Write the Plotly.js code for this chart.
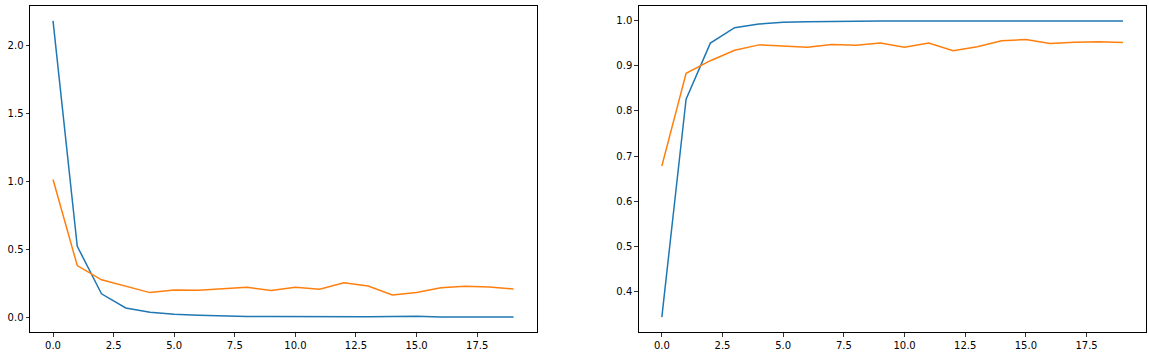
<!DOCTYPE html>
<html>
<head>
<meta charset="utf-8">
<script src="https://cdn.plot.ly/plotly-3.0.1.min.js"></script>
<style>html,body{margin:0;padding:0;background:#fff;}#chart{width:1149px;height:354px;}</style>
</head>
<body>
<div id="chart"></div>
<script>
const epochs = [0,1,2,3,4,5,6,7,8,9,10,11,12,13,14,15,16,17,18,19];
const trainLoss = [2.185,0.525,0.175,0.071,0.039,0.024,0.017,0.012,0.009,0.008,0.007,0.007,0.008,0.007,0.009,0.010,0.005,0.005,0.004,0.005];
const valLoss = [1.017,0.383,0.278,0.231,0.184,0.204,0.201,0.212,0.223,0.199,0.223,0.209,0.256,0.233,0.167,0.184,0.219,0.231,0.226,0.211];
const trainAcc = [0.344,0.826,0.950,0.984,0.992,0.996,0.997,0.998,0.999,0.999,0.999,0.999,0.999,0.999,0.999,0.998,0.999,0.999,0.9995,0.999];
const valAcc = [0.678,0.883,0.911,0.934,0.946,0.944,0.941,0.947,0.945,0.950,0.941,0.950,0.933,0.942,0.955,0.958,0.949,0.952,0.953,0.951];

const blue = '#1f77b4', orange = '#ff7f0e';
const traces = [
  {x: epochs, y: trainLoss, mode: 'lines', line: {color: blue, width: 1.5}, xaxis: 'x', yaxis: 'y'},
  {x: epochs, y: valLoss, mode: 'lines', line: {color: orange, width: 1.5}, xaxis: 'x', yaxis: 'y'},
  {x: epochs, y: trainAcc, mode: 'lines', line: {color: blue, width: 1.5}, xaxis: 'x2', yaxis: 'y2'},
  {x: epochs, y: valAcc, mode: 'lines', line: {color: orange, width: 1.5}, xaxis: 'x2', yaxis: 'y2'}
];
const axBase = {
  showline: true, mirror: true, linecolor: '#000', linewidth: 1,
  ticks: 'outside', ticklen: 3.5, tickwidth: 0.8, tickcolor: '#000',
  showgrid: false, zeroline: false, automargin: false,
  tickfont: {family: 'DejaVu Sans', size: 10, color: '#000'},
  tickformat: '.1f'
};
const layout = {
  width: 1149, height: 354,
  margin: {l: 30, r: 3, t: 6, b: 22},
  paper_bgcolor: '#fff', plot_bgcolor: '#fff',
  showlegend: false,
  xaxis: Object.assign({}, axBase, {domain: [0, 0.4539], range: [-0.95, 19.95], dtick: 2.5, tick0: 0, anchor: 'y'}),
  yaxis: Object.assign({}, axBase, {domain: [0, 1], range: [-0.106, 2.294], dtick: 0.5, tick0: 0, anchor: 'x'}),
  xaxis2: Object.assign({}, axBase, {domain: [0.5455, 1], range: [-0.95, 19.95], dtick: 2.5, tick0: 0, anchor: 'y2'}),
  yaxis2: Object.assign({}, axBase, {domain: [0, 1], range: [0.311, 1.032], dtick: 0.1, tick0: 0, anchor: 'x2'})
};
Plotly.newPlot('chart', traces, layout, {staticPlot: true, displayModeBar: false});
</script>
</body>
</html>
